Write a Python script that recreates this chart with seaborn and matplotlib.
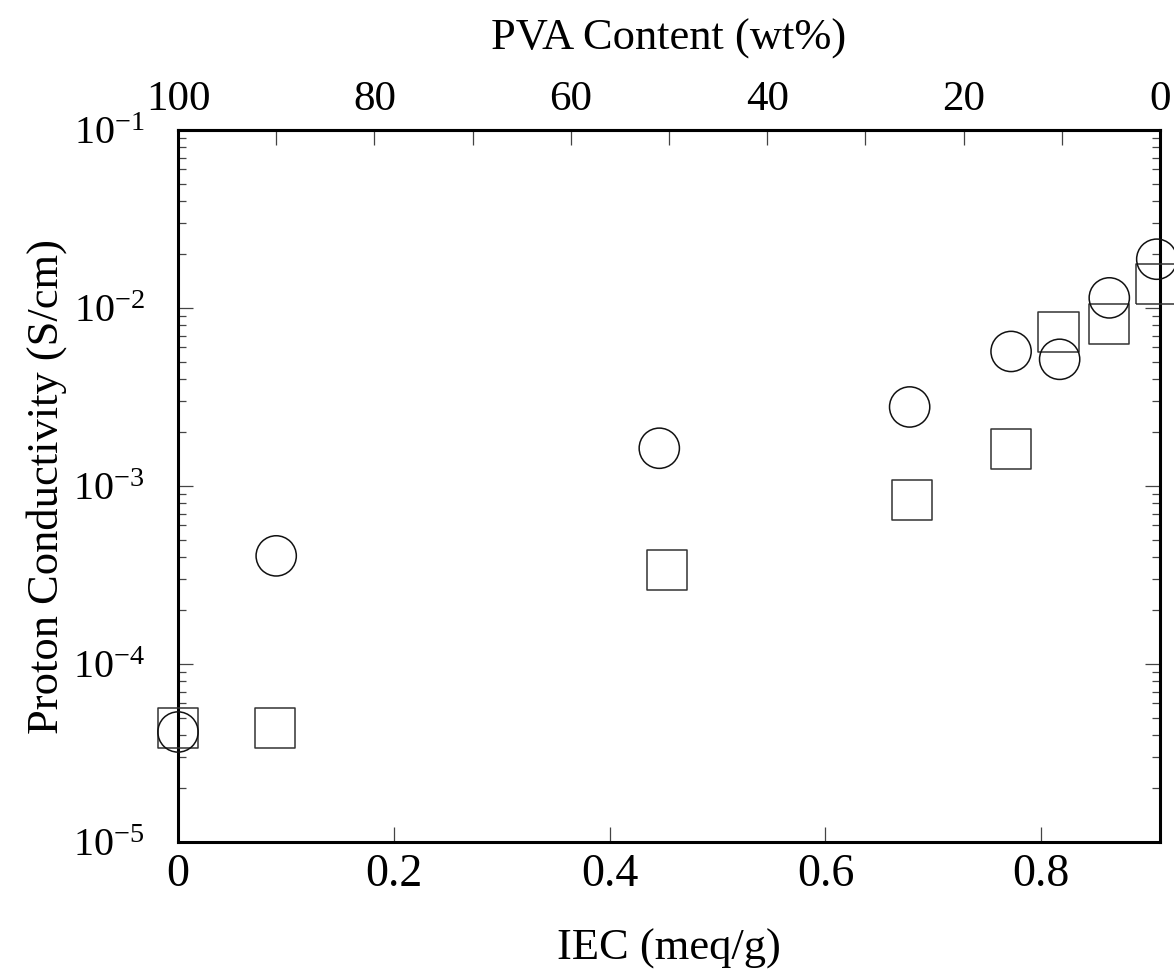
import matplotlib
matplotlib.use("Agg")
import matplotlib.pyplot as plt
import seaborn as sns
import numpy as np
from matplotlib.ticker import FixedLocator, FixedFormatter, LogLocator, NullFormatter

# ---- data ----
iec_circle = [0.000, 0.091, 0.446, 0.678, 0.772, 0.817, 0.863, 0.907]
cond_circle = [4.15e-5, 4.05e-4, 1.63e-3, 2.78e-3, 5.7e-3, 5.15e-3, 1.14e-2, 1.88e-2]

iec_square = [0.000, 0.090, 0.453, 0.680, 0.772, 0.816, 0.863, 0.906]
cond_square = [4.37e-5, 4.37e-5, 3.37e-4, 8.34e-4, 1.61e-3, 7.33e-3, 8.13e-3, 1.36e-2]

x_ticks = [0, 0.2, 0.4, 0.6, 0.8]
x_ticklabels = ["0", "0.2", "0.4", "0.6", "0.8"]
y_ticks = [1e-5, 1e-4, 1e-3, 1e-2, 1e-1]
y_ticklabels = [r"$\mathregular{10^{-5}}$", r"$\mathregular{10^{-4}}$", r"$\mathregular{10^{-3}}$",
                r"$\mathregular{10^{-2}}$", r"$\mathregular{10^{-1}}$"]
pva_major = [100, 80, 60, 40, 20, 0]
pva_minor = [90, 70, 50, 30, 10]
x_max = 0.91

sns.set_style("ticks")
plt.rcParams["font.family"] = ["Liberation Serif", "DejaVu Serif"]
plt.rcParams["mathtext.fontset"] = "custom"
plt.rcParams["mathtext.rm"] = "Liberation Serif"
plt.rcParams["text.color"] = "black"
plt.rcParams["axes.labelcolor"] = "black"
plt.rcParams["xtick.labelcolor"] = "black"
plt.rcParams["ytick.labelcolor"] = "black"

fig = plt.figure(figsize=(11.74, 9.72), dpi=100)
ax = fig.add_axes([178 / 1174, 1 - 842 / 972, (1160 - 178) / 1174, (842 - 130) / 972])

ms = 840
sns.scatterplot(x=iec_square, y=cond_square, marker="s", s=ms, facecolor="none",
                edgecolor="#333333", linewidth=1.1, ax=ax, clip_on=False, zorder=3)
sns.scatterplot(x=iec_circle, y=cond_circle, marker="o", s=ms, facecolor="none",
                edgecolor="#111111", linewidth=1.1, ax=ax, clip_on=False, zorder=4)

ax.set_yscale("log")
ax.set_xlim(0, x_max)
ax.set_ylim(1e-5, 1e-1)

ax.xaxis.set_major_locator(FixedLocator(x_ticks))
ax.xaxis.set_major_formatter(FixedFormatter(x_ticklabels))
ax.yaxis.set_major_locator(FixedLocator(y_ticks))
ax.yaxis.set_major_formatter(FixedFormatter(y_ticklabels))
ax.yaxis.set_minor_locator(LogLocator(base=10, subs=np.arange(2, 10), numticks=20))
ax.yaxis.set_minor_formatter(NullFormatter())

for s in ax.spines.values():
    s.set_linewidth(2.2)
    s.set_color("black")
    s.set_visible(True)

ax.tick_params(axis="x", which="major", direction="in", length=11, width=0.9,
               color="#444444", labelcolor="black", labelsize=33, pad=8, bottom=True, top=False)
ax.tick_params(axis="y", which="major", direction="in", length=11, width=0.9,
               color="#444444", labelcolor="black", labelsize=29, pad=24, left=True, right=True)
ax.tick_params(axis="y", which="minor", direction="in", length=6, width=0.9,
               color="#444444", left=True, right=True)

ax.set_xlabel("IEC (meq/g)", fontsize=32, labelpad=24, color="black")
ax.set_ylabel("Proton Conductivity (S/cm)", fontsize=32, labelpad=4, color="black")

sec = ax.secondary_xaxis("top", functions=(lambda x: 100 * (1 - np.asarray(x) / x_max),
                                            lambda p: x_max * (1 - np.asarray(p) / 100)))
sec.xaxis.set_major_locator(FixedLocator(pva_major))
sec.xaxis.set_minor_locator(FixedLocator(pva_minor))
sec.tick_params(which="both", direction="in", length=11, width=0.9, color="#444444",
                labelcolor="black", labelsize=31, pad=8)
sec.spines["top"].set_linewidth(2.2)
sec.set_xlabel("PVA Content (wt%)", fontsize=32, labelpad=22, color="black")

fig.savefig("out.png", dpi=100)
